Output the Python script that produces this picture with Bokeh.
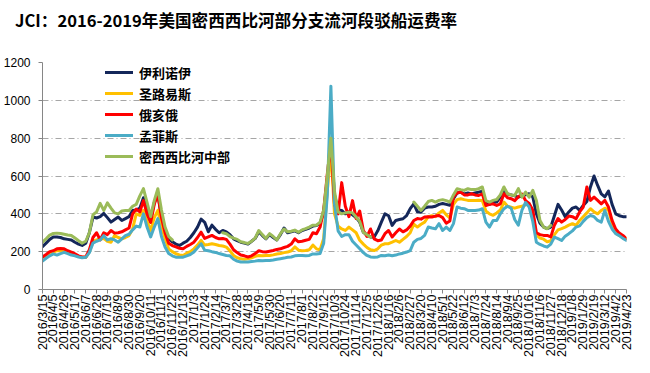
import numpy as np
from bokeh.plotting import figure
from bokeh.layouts import column
from bokeh.models import Range1d, FixedTicker, Legend, LegendItem, Div
from bokeh.embed import file_html
from bokeh.resources import INLINE

title_text = "JCI：2016-2019年美国密西西比河部分支流河段驳船运费率"

series_names = ["伊利诺伊", "圣路易斯", "俄亥俄", "孟菲斯", "密西西比河中部"]
series_colors = ["#14275A", "#FFC000", "#FF0000", "#4BACC6", "#9BBB59"]

tick_labels = [
    "2016/3/15", "2016/4/5", "2016/4/26", "2016/5/17", "2016/6/7", "2016/6/28", "2016/7/19",
    "2016/8/9", "2016/8/30", "2016/9/20", "2016/10/11", "2016/11/1", "2016/11/22", "2016/12/13",
    "2017/1/3", "2017/1/24", "2017/2/14", "2017/3/7", "2017/3/28", "2017/4/18", "2017/5/9",
    "2017/5/30", "2017/6/20", "2017/7/11", "2017/8/1", "2017/8/22", "2017/9/12", "2017/10/3",
    "2017/10/24", "2017/11/14", "2017/12/5", "2017/12/26",
    "2018/1/16", "2018/2/6", "2018/2/27", "2018/3/20", "2018/4/10", "2018/5/1", "2018/5/22",
    "2018/6/12", "2018/7/3", "2018/7/24", "2018/8/14", "2018/9/4", "2018/9/25", "2018/10/16",
    "2018/11/6", "2018/11/27", "2018/12/18",
    "2019/1/8", "2019/1/29", "2019/2/19", "2019/3/12", "2019/4/2", "2019/4/23",
]

illinois = [
    227, 245, 265, 277, 278, 275, 268, 265, 262, 250, 240, 233, 245,
    300, 383, 378, 385, 402, 380, 356, 370, 383, 365, 375, 385, 418,
    420, 430, 485, 420, 370, 460, 505, 380, 300, 270, 252, 240, 233,
    245, 255, 275, 300, 330, 372, 355, 305, 340, 318, 300, 312, 305,
    290, 268, 258, 250, 245, 240, 255, 270, 305, 285, 268, 290, 275,
    262, 290, 325, 300, 305, 310, 300, 312, 318, 325, 335, 338, 350,
    410, 580, 760,
    500, 420, 418, 400, 410, 395, 380, 356, 303, 290, 277, 277,
    310, 356, 400, 390, 339, 365, 370, 374, 391, 427, 453, 410,
    410, 430, 436, 436, 440, 450, 455, 450, 445, 480, 510, 515, 505,
    510, 505, 510, 515, 520, 455, 450, 460, 462, 490, 525,
    505, 500, 495, 488, 495, 500, 506, 490, 400, 350, 330, 322, 330,
    390, 450, 420, 385, 410, 430, 436, 418, 444, 465, 542, 600, 550,
    506, 490, 520, 450, 400, 390, 385, 385,
]

st_louis = [
    170, 180, 192, 198, 206, 205, 200, 195, 190, 183, 175, 170, 170,
    200, 255, 262, 268, 270, 255, 250, 285, 275, 268, 275, 285, 320,
    400, 392, 418, 360, 312, 380, 418, 330, 270, 215, 200, 189, 183,
    180, 192, 200, 215, 235, 260, 235, 238, 242, 238, 233, 230, 224,
    205, 180, 168, 162, 160, 162, 168, 175, 180, 178, 180, 180, 183,
    188, 190, 195, 198, 205, 225, 208, 205, 206, 210, 235, 215, 210,
    270, 520, 740,
    400, 335, 320, 312, 330, 315, 300, 260, 240, 222, 210, 206,
    215, 235, 242, 242, 250, 259, 250, 265, 280, 300, 345, 330,
    345, 356, 385, 390, 385, 405, 418, 395, 378, 450, 475, 480, 475,
    471, 470, 471, 472, 470, 415, 400, 392, 405, 420, 462,
    440, 435, 430, 436, 440, 448, 453, 400, 290, 272, 266, 252, 258,
    290, 315, 322, 330, 340, 348, 339, 365, 385, 405, 427, 410, 400,
    418, 430, 420, 350, 298, 285, 277, 270,
]

ohio = [
    172, 185, 200, 205, 215, 217, 215, 205, 198, 188, 178, 172, 172,
    210, 275, 300, 262, 300, 290, 312, 298, 300, 305, 315, 325, 400,
    425, 410, 470, 400, 355, 450, 505, 380, 300, 245, 232, 225, 218,
    215, 228, 238, 250, 275, 303, 270, 278, 286, 275, 268, 270, 265,
    240, 210, 195, 182, 178, 172, 178, 190, 205, 200, 198, 202, 206,
    212, 215, 222, 228, 240, 268, 252, 255, 260, 265, 300, 295, 330,
    420, 610, 780,
    450, 400, 565, 440, 385, 470, 375, 415, 312, 280, 320, 268,
    258, 262, 295, 312, 278, 300, 320, 305, 315, 335, 365, 375,
    372, 383, 385, 383, 388, 391, 380, 350, 362, 490, 510, 515, 500,
    500, 506, 500, 497, 506, 444, 450, 453, 444, 453, 506,
    485, 480, 470, 490, 505, 470, 455, 420, 300, 290, 286, 286, 278,
    340, 375, 356, 370, 388, 385, 374, 410, 436, 542, 471, 488, 471,
    453, 471, 436, 365, 320, 298, 286, 268,
]

memphis = [
    150, 165, 178, 188, 182, 190, 196, 190, 182, 178, 172, 168, 170,
    195, 245, 255, 262, 285, 262, 268, 262, 250, 268, 285, 292, 315,
    335, 330, 400, 330, 278, 330, 375, 280, 225, 190, 178, 171, 170,
    171, 178, 185, 198, 220, 242, 208, 205, 200, 196, 190, 185, 180,
    178, 160, 150, 145, 145, 145, 148, 150, 153, 152, 153, 153, 156,
    160, 163, 166, 170, 172, 178, 180, 180, 178, 180, 188, 188, 190,
    245, 500, 1075,
    450, 310, 280, 290, 290, 255, 235, 215, 195, 180, 172, 170,
    172, 180, 178, 182, 178, 182, 188, 192, 198, 206, 250, 265,
    270, 286, 330, 325, 321, 348, 312, 330, 312, 348, 436, 430, 427,
    418, 418, 418, 420, 427, 356, 330, 365, 365, 400, 427,
    440, 430, 370, 340, 420, 460, 436, 360, 250, 238, 230, 224, 240,
    277, 269, 259, 282, 295, 310, 330, 336, 360, 380, 391, 385, 365,
    356, 418, 360, 320, 295, 285, 270, 260,
]

mid_mississippi = [
    250, 268, 288, 296, 298, 296, 292, 288, 285, 272, 258, 245, 255,
    300, 395, 410, 455, 418, 458, 430, 405, 400, 415, 418, 418, 440,
    450, 495, 533, 460, 385, 470, 533, 420, 330, 280, 262,
    None, None, None, None, None, None, None, None, None, None, None, None, None,
    300, 295,
    280, 272, 265, 252, 248, 243, 255, 272, 312, 290, 270, 295, 280,
    262, 295, 320, 305, 308, 314, 303, 315, 322, 330, 340, 340, 356,
    420, 600, 800,
    520, 410, 400, 405, 409, 405, 383, 360, 303, 290, 277,
    None, None, None, None, None, None, None, None, None, None, None,
    462, 440, 418, 440, 465, 471, 462, 471, 475, 470, 462, 500, 533, 528, 524,
    533, 528, 528, 533, 542, 470, 462, 471, 476, 500, 542,
    506, 500, 497, 533, 488, 515, 488, 524, 471, 365, 330, 321, 339,
    None, None, None, None, None, None, None, None, None, None, None,
    None, None, None, None, None, None, None, None, None, None,
]

y_ticks = [0, 200, 400, 600, 800, 1000, 1200]

all_series = [illinois, st_louis, ohio, memphis, mid_mississippi]
n = len(illinois)
xs = np.arange(n)
tick_pos = list(range(0, n, 3))

FONT_CJK = "Noto Sans CJK SC"
FONT_NUM = "Liberation Sans"

# ---- title (HTML text above the chart) ----
title = Div(text=title_text, width=650, height=40, margin=(0, 0, 0, 0),
            styles={"font-family": FONT_CJK, "font-size": "16.6px",
                    "font-weight": "bold", "color": "#000000",
                    "padding-left": "15px", "line-height": "40px",
                    "white-space": "nowrap"})

# ---- main chart ----
p = figure(width=650, height=333, frame_width=584, frame_height=227,
           output_backend="svg", toolbar_location=None,
           x_range=Range1d(0, n - 1), y_range=Range1d(0, 1200),
           min_border_left=42, min_border_right=24, min_border_bottom=84,
           min_border_top=22)
p.outline_line_color = None
p.background_fill_color = "white"

items = []
for name, col, vals in zip(series_names, series_colors, all_series):
    r = p.line(xs, np.array(vals, dtype=float), line_color=col, line_width=3,
               line_join="round", line_cap="round")
    items.append(LegendItem(label=name, renderers=[r]))

legend = Legend(items=items, location=(63, 123), orientation="vertical",
                background_fill_alpha=0, border_line_color=None,
                label_text_font=FONT_CJK, label_text_font_size="13px",
                label_text_font_style="bold", label_text_color="#000000",
                glyph_width=28, glyph_height=20, label_height=20, label_standoff=6,
                spacing=1, padding=0, margin=0)
p.add_layout(legend, "center")

p.xgrid.visible = False
p.ygrid.ticker = FixedTicker(ticks=y_ticks)
p.ygrid.grid_line_color = "#A6A6A6"
p.ygrid.grid_line_dash = "6 3 1 3"
p.ygrid.grid_line_width = 1

p.yaxis.ticker = FixedTicker(ticks=y_ticks)
p.yaxis.axis_line_color = "#868686"
p.yaxis.major_tick_line_color = "#868686"
p.yaxis.major_tick_out = 4
p.yaxis.major_tick_in = 0
p.yaxis.minor_tick_line_color = None
p.yaxis.major_label_standoff = 8
p.yaxis.major_label_text_font = FONT_NUM
p.yaxis.major_label_text_font_size = "12px"
p.yaxis.major_label_text_color = "#000000"

p.xaxis.ticker = FixedTicker(ticks=tick_pos)
p.xaxis.major_label_overrides = {t: lab for t, lab in zip(tick_pos, tick_labels)}
p.xaxis.major_label_orientation = np.pi / 2
p.xaxis.axis_line_color = "#868686"
p.xaxis.major_tick_line_color = "#868686"
p.xaxis.major_tick_out = 4
p.xaxis.major_tick_in = 0
p.xaxis.minor_tick_line_color = None
p.xaxis.major_label_standoff = 1
p.xaxis.major_label_text_font = FONT_NUM
p.xaxis.major_label_text_font_size = "12.5px"
p.xaxis.major_label_text_color = "#000000"

open("out.html", "w").write(file_html(column(title, p, spacing=0), INLINE))
